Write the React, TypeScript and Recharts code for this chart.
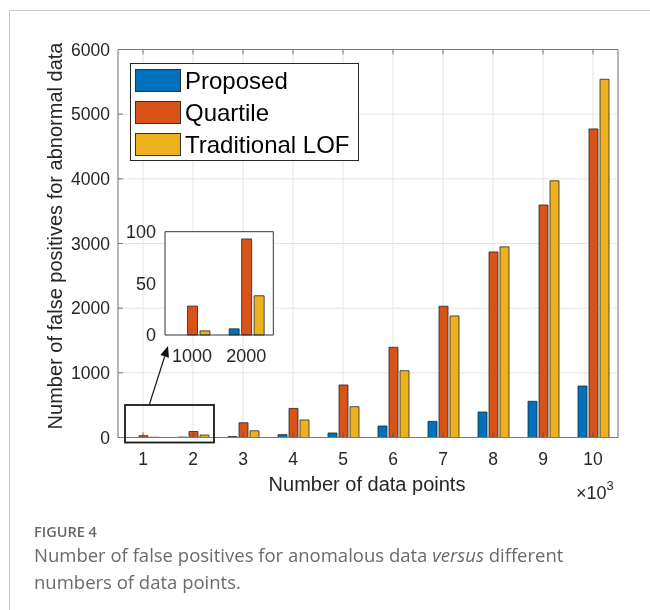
import React from 'react';
import { BarChart, Bar, XAxis, YAxis, CartesianGrid } from 'recharts';

// number of data points (x 10^3)
const pointCounts = ['1', '2', '3', '4', '5', '6', '7', '8', '9', '10'];
const proposed = [0, 6, 15, 45, 70, 178, 250, 394, 560, 796];
const quartile = [28, 93, 228, 450, 812, 1395, 2030, 2870, 3595, 4772];
const traditionalLof = [4, 38, 104, 271, 476, 1033, 1880, 2948, 3970, 5540];
const yTicks = [0, 1000, 2000, 3000, 4000, 5000, 6000];

// zoomed inset: the first two groups
const insetLabels = ['1000', '2000'];
const insetTicks = [0, 50, 100];

const BLUE = '#0072BD';
const ORANGE = '#D95319';
const YELLOW = '#EDB120';
const EDGE = '#262626';
const AXIS = '#7a7a7a';
const FONT = '"Liberation Sans", Arial, sans-serif';
const CAPTION_FONT = '"Open Sans", sans-serif';

const mainData = pointCounts.map((n, i) => ({
    n,
    proposed: proposed[i],
    quartile: quartile[i],
    lof: traditionalLof[i],
}));

const insetData = insetLabels.map((n, i) => ({
    n,
    proposed: proposed[i],
    quartile: quartile[i],
    lof: traditionalLof[i],
}));

const legendItems = [
    { label: 'Proposed', color: BLUE },
    { label: 'Quartile', color: ORANGE },
    { label: 'Traditional LOF', color: YELLOW },
];

function LeftTick({ x, y, payload, mark = 5, gap = 8, size = 17.5 }: any) {
    return (
        <g>
            {mark > 0 && <line x1={x} y1={y} x2={x + mark} y2={y} stroke={AXIS} />}
            <text x={x - gap} y={y + 6.3} textAnchor="end" fontSize={size} fontFamily={FONT} fill="#262626">
                {payload.value}
            </text>
        </g>
    );
}

function BottomTick({ x, y, payload, mark = 5, drop = 27, size = 17.5 }: any) {
    return (
        <g>
            {mark > 0 && <line x1={x} y1={y} x2={x} y2={y - mark} stroke="#555" />}
            <text x={x} y={y + drop} textAnchor="middle" fontSize={size} fontFamily={FONT} fill="#262626">
                {payload.value}
            </text>
        </g>
    );
}

function RightTick({ x, y }: any) {
    return <line x1={x - 5} y1={y} x2={x} y2={y} stroke={AXIS} />;
}

function TopTick({ x, y }: any) {
    return <line x1={x} y1={y} x2={x} y2={y + 5} stroke={AXIS} />;
}

function Arrow({ from, to }: { from: [number, number]; to: [number, number] }) {
    const dx = to[0] - from[0];
    const dy = to[1] - from[1];
    const len = Math.hypot(dx, dy);
    const ux = dx / len;
    const uy = dy / len;
    const head = 11;
    const half = 4.5;
    const bx = to[0] - ux * head;
    const by = to[1] - uy * head;
    const pts = `${to[0]},${to[1]} ${bx - uy * half},${by + ux * half} ${bx + uy * half},${by - ux * half}`;
    return (
        <g>
            <line x1={from[0]} y1={from[1]} x2={bx} y2={by} stroke="#1a1a1a" strokeWidth={1.2} />
            <polygon points={pts} fill="#111" />
        </g>
    );
}

export default function App() {
    return (
        <div style={{ position: 'relative', width: 634, height: 594, fontFamily: FONT }}>
            {/* card frame */}
            <div
                style={{
                    position: 'fixed',
                    left: 9,
                    top: 10,
                    width: 800,
                    height: 800,
                    borderTop: '1px solid #c9c9c9',
                    borderLeft: '1px solid #c9c9c9',
                }}
            />

            {/* main chart */}
            <div style={{ position: 'absolute', left: -8, top: -8 }}>
                <BarChart
                    width={650}
                    height={520}
                    data={mainData}
                    margin={{ top: 48.5, right: 31, bottom: 51.5, left: 48 }}
                    barSize={9}
                    barGap={2}
                >
                    <CartesianGrid stroke="#e4e4e4" />
                    <Bar dataKey="proposed" fill={BLUE} stroke={EDGE} strokeWidth={0.8} isAnimationActive={false} />
                    <Bar dataKey="quartile" fill={ORANGE} stroke={EDGE} strokeWidth={0.8} isAnimationActive={false} />
                    <Bar dataKey="lof" fill={YELLOW} stroke={EDGE} strokeWidth={0.8} isAnimationActive={false} />
                    <XAxis
                        dataKey="n"
                        height={31}
                        axisLine={{ stroke: AXIS }}
                        tickLine={false}
                        tickSize={0}
                        tickMargin={0}
                        interval={0}
                        tick={(p: any) => <BottomTick {...p} />}
                    />
                    <XAxis
                        xAxisId="top"
                        orientation="top"
                        dataKey="n"
                        height={1}
                        axisLine={{ stroke: AXIS }}
                        tickLine={false}
                        tickSize={0}
                        tickMargin={0}
                        interval={0}
                        tick={(p: any) => <TopTick {...p} />}
                    />
                    <YAxis
                        width={70}
                        domain={[0, 6000]}
                        ticks={yTicks}
                        axisLine={{ stroke: AXIS }}
                        tickLine={false}
                        tickSize={0}
                        tickMargin={0}
                        interval={0}
                        tick={(p: any) => <LeftTick {...p} />}
                    />
                    <YAxis
                        yAxisId="right"
                        orientation="right"
                        width={1}
                        domain={[0, 6000]}
                        ticks={yTicks}
                        axisLine={{ stroke: AXIS }}
                        tickLine={false}
                        tickSize={0}
                        tickMargin={0}
                        interval={0}
                        tick={(p: any) => <RightTick {...p} />}
                    />
                </BarChart>
            </div>

            {/* inset zoom chart */}
            <div style={{ position: 'absolute', left: 112, top: 212 }}>
                <BarChart
                    width={170}
                    height={150}
                    data={insetData}
                    margin={{ top: 10.7, right: 15.7, bottom: 5, left: 15 }}
                    barSize={10}
                    barGap={2.5}
                >
                    <CartesianGrid horizontal={false} vertical={false} fill="#ffffff" />
                    <Bar dataKey="proposed" fill={BLUE} stroke={EDGE} strokeWidth={0.8} isAnimationActive={false} />
                    <Bar dataKey="quartile" fill={ORANGE} stroke={EDGE} strokeWidth={0.8} isAnimationActive={false} />
                    <Bar dataKey="lof" fill={YELLOW} stroke={EDGE} strokeWidth={0.8} isAnimationActive={false} />
                    <XAxis
                        dataKey="n"
                        height={30}
                        axisLine={{ stroke: '#333' }}
                        tickLine={false}
                        tickSize={0}
                        tickMargin={0}
                        interval={0}
                        tick={(p: any) => <BottomTick {...p} mark={0} drop={27} size={18} />}
                    />
                    <XAxis
                        xAxisId="top"
                        orientation="top"
                        dataKey="n"
                        height={1}
                        axisLine={{ stroke: '#333' }}
                        tick={false}
                        tickLine={false}
                    />
                    <YAxis
                        width={30}
                        domain={[0, 100]}
                        ticks={insetTicks}
                        axisLine={{ stroke: '#333' }}
                        tickLine={false}
                        tickSize={0}
                        tickMargin={0}
                        interval={0}
                        tick={(p: any) => <LeftTick {...p} mark={0} gap={9} size={18} />}
                    />
                    <YAxis
                        yAxisId="right"
                        orientation="right"
                        width={1}
                        domain={[0, 100]}
                        axisLine={{ stroke: '#333' }}
                        tick={false}
                        tickLine={false}
                    />
                </BarChart>
            </div>

            {/* legend */}
            <div
                style={{
                    position: 'absolute',
                    left: 122,
                    top: 54.5,
                    width: 229,
                    height: 98,
                    boxSizing: 'border-box',
                    background: '#fff',
                    border: '1px solid #262626',
                }}
            >
                {legendItems.map((item, i) => (
                    <div key={item.label} style={{ position: 'absolute', left: 4, top: 5 + i * 32, height: 24, display: 'flex', alignItems: 'center' }}>
                        <div style={{ width: 46, height: 23, boxSizing: 'border-box', background: item.color, border: '1px solid #333' }} />
                        <span style={{ marginLeft: 4, fontSize: 24, color: '#000', lineHeight: '24px' }}>{item.label}</span>
                    </div>
                ))}
            </div>

            {/* labels, zoom box, arrow, caption */}
            <svg width={650} height={610} style={{ position: 'absolute', left: -8, top: -8, pointerEvents: 'none' }}>
                <text transform="translate(61.5,236) rotate(-90)" textAnchor="middle" fontSize={20} fontFamily={FONT} fill="#262626">
                    Number of false positives for abnormal data
                </text>
                <text x={367} y={491} textAnchor="middle" fontSize={20} fontFamily={FONT} fill="#262626">
                    Number of data points
                </text>
                <text x={576} y={499} fontSize={18} fontFamily={FONT} fill="#262626">
                    ×10<tspan dy={-9} fontSize={13}>3</tspan>
                </text>
                <rect x={125} y={405} width={89} height={37.5} fill="none" stroke="#1a1a1a" strokeWidth={1.8} />
                <Arrow from={[149.5, 404]} to={[168, 346]} />
                <text x={34} y={537} fontSize={14.5} fontWeight={600} fontFamily={CAPTION_FONT} fill="#666">
                    FIGURE 4
                </text>
                <text x={34} y={562} fontSize={18.5} fontFamily={CAPTION_FONT} fill="#6a6a6a">
                    Number of false positives for anomalous data <tspan fontStyle="italic">versus</tspan> different
                </text>
                <text x={34} y={589} fontSize={18.5} fontFamily={CAPTION_FONT} fill="#6a6a6a">
                    numbers of data points.
                </text>
            </svg>
        </div>
    );
}
